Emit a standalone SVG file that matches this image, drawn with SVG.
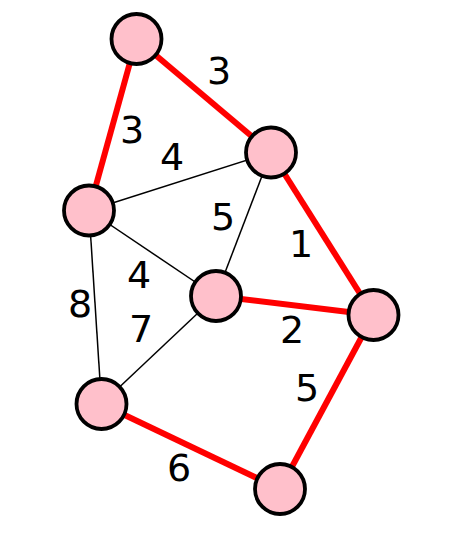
<svg xmlns="http://www.w3.org/2000/svg" width="465" height="537" viewBox="0 0 465 537">
<style>
.red{stroke:#ff0000;stroke-width:6;fill:none}
.blk{stroke:#000;stroke-width:1.5;fill:none}
.node circle{fill:#ffc0cb;stroke:#000;stroke-width:3.8}
.lbl{font-family:"DejaVu Sans",sans-serif;font-size:38px;fill:#000;text-anchor:middle;dominant-baseline:central}
</style>
<rect width="465" height="537" fill="#fff"/>
<g id="edges">
<line class="red" x1="136.5" y1="39" x2="271" y2="152.5"/>
<line class="red" x1="136.5" y1="39" x2="89" y2="210.5"/>
<line class="blk" x1="89" y1="210.5" x2="271" y2="152.5"/>
<line class="blk" x1="271" y1="152.5" x2="216" y2="296"/>
<line class="red" x1="271" y1="152.5" x2="373.5" y2="315"/>
<line class="blk" x1="89" y1="210.5" x2="216" y2="296"/>
<line class="red" x1="216" y1="296" x2="373.5" y2="315"/>
<line class="blk" x1="89" y1="210.5" x2="101.5" y2="404"/>
<line class="blk" x1="216" y1="296" x2="101.5" y2="404"/>
<line class="red" x1="101.5" y1="404" x2="280" y2="489"/>
<line class="red" x1="373.5" y1="315" x2="280" y2="489"/>
</g>
<g id="labels">
<text class="lbl" x="219" y="71">3</text>
<text class="lbl" x="132" y="130">3</text>
<text class="lbl" x="172" y="157">4</text>
<text class="lbl" x="223" y="217">5</text>
<text class="lbl" x="301" y="244">1</text>
<text class="lbl" x="139" y="275">4</text>
<text class="lbl" x="80" y="304">8</text>
<text class="lbl" x="141" y="329">7</text>
<text class="lbl" x="292" y="330">2</text>
<text class="lbl" x="307" y="388">5</text>
<text class="lbl" x="179" y="468">6</text>
</g>
<g id="n1" class="node"><circle cx="136.5" cy="39" r="25"/></g>
<g id="n2" class="node"><circle cx="271" cy="152.5" r="25"/></g>
<g id="n3" class="node"><circle cx="89" cy="210.5" r="25"/></g>
<g id="n4" class="node"><circle cx="216" cy="296" r="25"/></g>
<g id="n5" class="node"><circle cx="373.5" cy="315" r="25"/></g>
<g id="n6" class="node"><circle cx="101.5" cy="404" r="25"/></g>
<g id="n7" class="node"><circle cx="280" cy="489" r="25"/></g>
</svg>
